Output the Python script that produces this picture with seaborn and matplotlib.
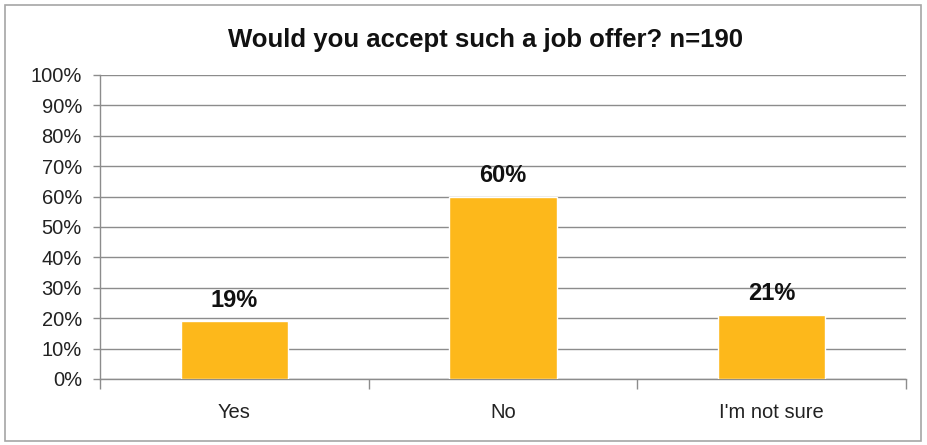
import matplotlib
matplotlib.use("Agg")
import matplotlib.pyplot as plt
import seaborn as sns
import pandas as pd
from matplotlib.patches import Rectangle
from matplotlib.ticker import FixedLocator, PercentFormatter

categories = ["Yes", "No", "I'm not sure"]
shares = [19, 60, 21]
y_ticks = list(range(0, 101, 10))
title = "Would you accept such a job offer? n=190"

sns.set_theme(style="white")
plt.rcParams["font.family"] = ["Liberation Sans", "DejaVu Sans"]

df = pd.DataFrame({"answer": categories, "share": shares})

fig = plt.figure(figsize=(9.28, 4.45), dpi=100)
ax = fig.add_axes([100 / 928, 1 - 379 / 445, 806 / 928, 304 / 445])

sns.barplot(data=df, x="answer", y="share", color="#FDB81B", width=0.40,
            saturation=1, ax=ax, zorder=3)

grid_c = "#8C8C8C"
ax.set_ylim(0, 100)
ax.set_xlim(-0.5, len(categories) - 0.5)
ax.set_yticks(y_ticks)
ax.yaxis.set_major_formatter(PercentFormatter(decimals=0))
ax.yaxis.grid(True, color=grid_c, linewidth=1, zorder=0)
ax.set_axisbelow(True)

ax.tick_params(axis="y", length=5, width=1, color=grid_c, direction="out",
               pad=8, labelsize=14.5, labelcolor="#222222", left=True)
ax.tick_params(axis="x", which="major", length=0, pad=17, labelsize=14.5,
               labelcolor="#222222")
ax.xaxis.set_minor_locator(FixedLocator([i - 0.5 for i in range(len(categories) + 1)]))
ax.tick_params(axis="x", which="minor", length=7, width=1, color=grid_c,
               direction="out", bottom=True)

for side in ("top", "right"):
    ax.spines[side].set_visible(False)
for side in ("left", "bottom"):
    ax.spines[side].set_color(grid_c)
    ax.spines[side].set_linewidth(1)

ax.set_xlabel("")
ax.set_ylabel("")

for i, v in enumerate(shares):
    ax.annotate(f"{v}%", (i, v), xytext=(0, 7), textcoords="offset points",
                ha="center", va="bottom", fontsize=17, fontweight="bold",
                color="#111111")

fig.text(485 / 928, 1 - 40 / 445, title, ha="center", va="center",
         fontsize=18.5, fontweight="bold", color="#111111")

fig.patches.append(Rectangle((5 / 928, 4 / 445), 916 / 928, 436 / 445,
                             transform=fig.transFigure, fill=False,
                             edgecolor="#A6A6A6", linewidth=1.2))

fig.savefig("out.png", dpi=100)
